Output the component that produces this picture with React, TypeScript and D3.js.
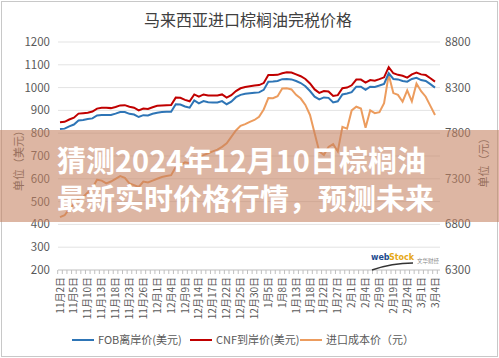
import { scaleLinear, line, range } from "d3";

// tick labels along the category axis (every third trading day)
const dateLabels = [
  "11月2日", "11月5日", "11月10日", "11月13日", "11月18日", "11月23日", "11月26日",
  "12月1日", "12月4日", "12月9日", "12月14日", "12月17日", "12月22日", "12月25日",
  "12月30日", "1月5日", "1月8日", "1月13日", "1月18日", "1月22日", "1月27日",
  "2月1日", "2月4日", "2月9日", "2月19日", "2月24日", "3月1日", "3月4日",
];

// FOB 离岸价 (美元)
const fob = [
  818, 820, 830, 838, 856, 858, 862, 865, 878, 880, 880, 880, 886, 893, 893, 885,
  882, 871, 879, 878, 885, 890, 893, 894, 894, 927, 926, 917, 912, 944, 931, 941,
  936, 935, 935, 941, 927, 938, 958, 968, 973, 975, 977, 979, 990, 1026, 1027, 1029,
  1037, 1038, 1036, 1029, 1020, 1006, 985, 960, 948, 957, 955, 935, 940, 970, 974,
  980, 1004, 1004, 990, 1004, 1003, 1009, 1016, 1063, 1038, 1036, 1029, 1026, 1038,
  1043, 1033, 1029, 1015, 1000,
];

// CNF 到岸价 (美元)
const cnf = [
  848, 850, 860, 868, 886, 888, 890, 895, 908, 912, 912, 910, 915, 922, 923, 916,
  912, 900, 908, 906, 914, 920, 922, 923, 924, 956, 955, 946, 940, 970, 960, 970,
  965, 965, 965, 970, 956, 967, 985, 997, 1003, 1006, 1009, 1011, 1020, 1055, 1055, 1056,
  1063, 1067, 1066, 1058, 1050, 1038, 1018, 992, 977, 985, 983, 963, 967, 997, 1000,
  1010, 1035, 1035, 1022, 1033, 1030, 1037, 1045, 1090, 1063, 1056, 1052, 1044, 1058,
  1066, 1058, 1055, 1041, 1026,
];

// 进口成本价 (元)
const cost = [
  6880, 6900, 6970, 7020, 7080, 7100, 7150, 7200, 7290, 7280, 7250, 7270, 7300, 7330, 7310, 7250,
  7230, 7210, 7270, 7260, 7280, 7300, 7320, 7330, 7340, 7430, 7450, 7480, 7470, 7540, 7530, 7560,
  7580, 7600, 7620, 7650, 7690, 7760, 7830, 7880, 7900, 7925, 7945, 7980, 8060, 8185, 8183, 8205,
  8290, 8292, 8280, 8220, 8180, 8110, 8000, 7800, 7600, 7560, 7650, 7680, 7600, 7870, 7850,
  8050, 8090, 8070, 7860, 8050, 8020, 8030, 8130, 8440, 8240, 8220, 8145, 8270, 8150,
  8345, 8260, 8200, 8100, 8000,
];

const leftTicks = [200, 300, 400, 500, 600, 700, 800, 900, 1000, 1100, 1200];
const rightTicks = [6300, 6800, 7300, 7800, 8300, 8800];

const legendItems = [
  { label: "FOB离岸价(美元)", color: "#2e75b6" },
  { label: "CNF到岸价(美元)", color: "#c00000" },
  { label: "进口成本价（元）", color: "#ec9c5e" },
];

const W = 499;
const H = 358;
const FONT = "'Noto Sans CJK SC', 'Noto Sans', sans-serif";

export default function App() {
  const margin = { left: 58, right: 440, top: 42, bottom: 270 };

  const x = scaleLinear().domain([0, fob.length - 1]).range([60, 435]);
  const yL = scaleLinear().domain([200, 1200]).range([margin.bottom, margin.top]);
  const yR = scaleLinear().domain([6300, 8800]).range([margin.bottom, margin.top]);

  const lineL = line<number>()
    .x((_, i) => x(i))
    .y((d) => yL(d));
  const lineR = line<number>()
    .x((_, i) => x(i))
    .y((d) => yR(d));

  const legendX = [72, 190, 300];

  return (
    <svg
      width={W}
      height={H}
      viewBox={`0 0 ${W} ${H}`}
      style={{ position: "absolute", left: 0, top: 0, background: "#fff" }}
      fontFamily={FONT}
    >
      <rect x={1.5} y={1.5} width={W - 3} height={H - 3} fill="#fff" stroke="#c8c8c8" />

      <text x={248} y={26} textAnchor="middle" fontSize={16} fill="#404040">
        马来西亚进口棕榈油完税价格
      </text>

      {/* gridlines + left axis */}
      {leftTicks.map((t) => (
        <g key={t}>
          <line
            x1={margin.left}
            x2={margin.right}
            y1={yL(t)}
            y2={yL(t)}
            stroke={t === 200 ? "#bfbfbf" : "#e3e3e3"}
          />
          <text x={50} y={yL(t) + 4} textAnchor="end" fontSize={11.5} fill="#595959">
            {t}
          </text>
        </g>
      ))}

      {/* right axis */}
      {rightTicks.map((t) => (
        <text key={t} x={445} y={yR(t) + 4} fontSize={11.5} fill="#595959">
          {t}
        </text>
      ))}

      {/* axis titles */}
      <text
        transform="translate(23,158) rotate(-90)"
        textAnchor="middle"
        fontSize={11}
        fill="#595959"
      >
        单位（美元）
      </text>
      <text
        transform="translate(488,160) rotate(-90)"
        textAnchor="middle"
        fontSize={11}
        fill="#595959"
      >
        单位（元）
      </text>

      {/* category ticks */}
      {range(fob.length + 1).map((i) => {
        const xx = x(i - 0.5);
        return (
          <line key={i} x1={xx} x2={xx} y1={270} y2={274} stroke="#bfbfbf" />
        );
      })}

      {/* category labels */}
      {dateLabels.map((d, k) => (
        <text
          key={d}
          transform={`translate(${x(k * 3) + 3.5},277) rotate(-90)`}
          textAnchor="end"
          fontSize={10}
          fill="#595959"
        >
          {d}
        </text>
      ))}

      {/* series */}
      <path d={lineR(cost) ?? ""} fill="none" stroke="#ec9c5e" strokeWidth={2} />
      <path d={lineL(fob) ?? ""} fill="none" stroke="#2e75b6" strokeWidth={2} />
      <path d={lineL(cnf) ?? ""} fill="none" stroke="#c00000" strokeWidth={2} />

      {/* webstock watermark */}
      <path d="M372,270 Q392,263 413,263" fill="none" stroke="#333" strokeWidth={1.5} />
      <g fontFamily="'DejaVu Sans', sans-serif" fontWeight="bold" fontSize={8}>
        <text x={371} y={260} fill="#1d4b8f">web</text>
        <text x={389} y={260} fill="#e6a817">Stock</text>
      </g>
      <text x={417} y={263} fontSize={5.5} fill="#8a8a8a">
        文华财经
      </text>

      {/* legend */}
      {legendItems.map((item, k) => (
        <g key={item.label} transform={`translate(${legendX[k]},340)`}>
          <line x1={0} x2={22} y1={0} y2={0} stroke={item.color} strokeWidth={2} />
          <text x={26} y={4} fontSize={11} fill="#595959">
            {item.label}
          </text>
        </g>
      ))}

      {/* overlay banner */}
      <rect x={0} y={130} width={W} height={92} fill="rgb(196,130,96)" fillOpacity={0.58} />
      <text x={57} y={172} fontSize={29} fontWeight="bold" fill="#fff">
        猜测2024年12月10日棕榈油
      </text>
      <text x={57} y={210} fontSize={29} fontWeight="bold" fill="#fff">
        最新实时价格行情，预测未来
      </text>
    </svg>
  );
}
